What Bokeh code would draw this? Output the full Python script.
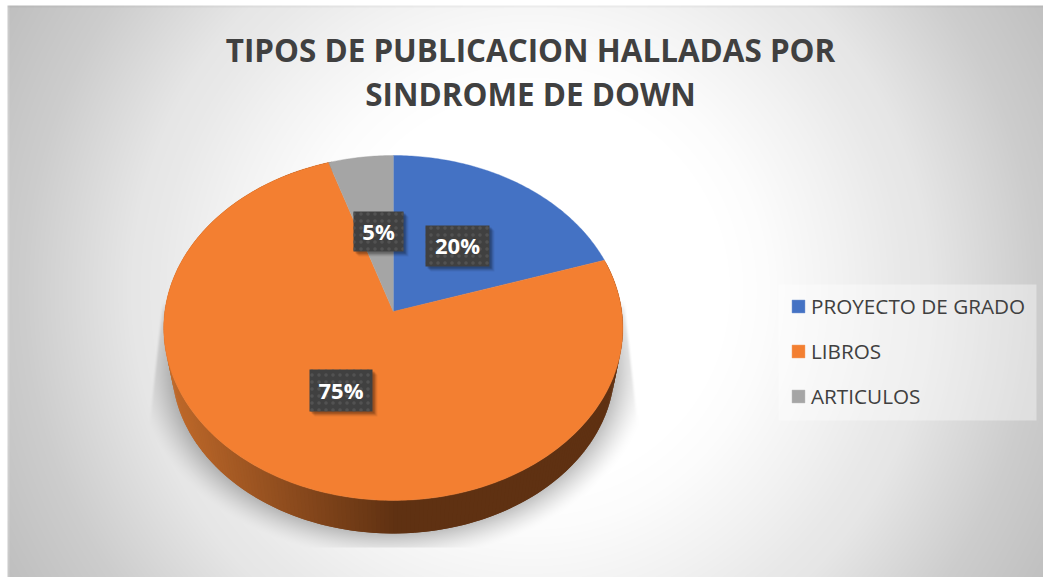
import numpy as np
from bokeh.plotting import figure
from bokeh.models import Legend, LegendItem
from bokeh.core.properties import value
from bokeh.embed import file_html
from bokeh.resources import INLINE

categories = ["PROYECTO DE GRADO", "LIBROS", "ARTICULOS"]
shares = [20, 75, 5]
labels = ["20%", "75%", "5%"]
colors = ["#4472C4", "#F37F31", "#A5A5A5"]
title_lines = ["TIPOS DE PUBLICACION HALLADAS POR", "SINDROME DE DOWN"]

W, H = 1043, 577
X0, Y0 = 392.8, 311.0
A, B, K = 228.5, 170.9, 0.0956
S, YL = 0.965, 350.6

def top(a):
    u, v = np.sin(a), np.cos(a)
    d = 1 + K * v
    return X0 + A * u / d, Y0 - B * v / d

def low(a):
    u, v = np.sin(a), np.cos(a)
    d = 1 + K * v
    return X0 + S * A * u / d, YL - S * B * v / d

# background: radial grey fade plus the soft shadow under the pie
yy, xx = np.mgrid[0:H, 0:W] + 0.5
r = np.hypot(xx - 530, yy - 290)
shade = 255 - np.interp(r, [0, 200, 240, 313, 371, 400, 506, 591, 640],
                        [0, 0, 3, 13, 22, 25, 50, 63, 70])
ex = (xx - X0) / (S * 230)
ey = (yy - 366) / (S * 172.5)
dist = (np.hypot(ex, ey) - 1) * 165
sh = np.clip(1 - dist / 26, 0, 1) ** 1.4 * 0.24
left = 160 - (yy - 310) * 12 / 110
right = 626 + (yy - 310) * 12 / 110
mask = np.clip((xx - left) / 3, 0, 1) * np.clip((right - xx) / 3, 0, 1)
mask *= np.clip((547.5 - yy), 0, 1) * np.clip((yy - 300) / 10, 0, 1)
shade = shade * (1 - sh * mask)
# frame edges of the chart area
shade[5:7, :] = shade[5:7, :] * 0.96
shade[:, 7:9] = shade[:, 7:9] + 10
g = np.clip(shade, 0, 255).astype(np.uint32)
img = ((255 << 24) | (g << 16) | (g << 8) | g).astype(np.uint32)
# white strip outside the chart frame
img[:5, :] = 0xFFFFFFFF
img[:, :7] = 0xFFFFFFFF

p = figure(width=W, height=H, x_range=(0, W), y_range=(H, 0),
           toolbar_location=None, output_backend="svg", min_border=0,
           outline_line_color=None, border_fill_color=None,
           background_fill_color=None)
p.axis.visible = False
p.grid.visible = False
p.image_rgba(image=[img], x=0, y=0, dw=W, dh=H)

# slice angles from the values
edges = np.cumsum([0] + shares) / sum(shares) * 2 * np.pi

# rim of the large slice, shaded left to right
step = np.radians(1.0)
a = np.arange(edges[1], edges[2], step)
xs, ys, cs = [], [], []
lo = np.array([0xC4, 0x6C, 0x2C])
hi = np.array([0x5F, 0x31, 0x12])
for a0 in a:
    a1 = a0 + 2 * step
    x0, y0 = top(a0); x1, y1 = top(a1)
    x2, y2 = low(a1); x3, y3 = low(a0)
    xs.append([x0, x1, x2, x3]); ys.append([y0, y1, y2, y3])
    t = np.clip((0.5 * (x2 + x3) - 165) / (395 - 165), 0, 1)
    c = (lo + (hi - lo) * t).astype(int)
    cs.append("#%02x%02x%02x" % tuple(c))
p.patches(xs, ys, fill_color=cs, line_color=None)

rs = []
for i, col in enumerate(colors):
    ang = np.linspace(edges[i], edges[i + 1], max(8, int(shares[i] * 5)))
    x, y = top(ang)
    rs.append(p.patch(np.r_[X0, x], np.r_[Y0, y], fill_color=col, line_color=col, line_width=0.4))

# value labels
bx0 = [425, 309, 353]
bx1 = [489, 372, 403]
by0 = [225, 369, 211]
by1 = [266, 411, 251]
bxc = [(a_ + b_) / 2 for a_, b_ in zip(bx0, bx1)]
byc = [(a_ + b_) / 2 - 1 for a_, b_ in zip(by0, by1)]
for off, alpha in [(5, 0.06), (4, 0.08), (3, 0.12), (2, 0.16)]:
    p.quad(left=[v + off for v in bx0], right=[v + off for v in bx1],
           top=[v + off for v in by0], bottom=[v + off for v in by1],
           fill_color="#000000", fill_alpha=alpha, line_color=None)
p.quad(left=bx0, right=bx1, top=by0, bottom=by1, fill_color="#404040", line_color=None,
       hatch_pattern="dot", hatch_color="#525252", hatch_scale=7, hatch_weight=1.2)
p.text(bxc, byc, text=labels, text_color="#FFFFFF", text_font=value("Open Sans"),
       text_font_style="bold", text_font_size="22px", text_align="center", text_baseline="middle")

# title
p.text([530, 530], [49, 92.5], text=title_lines, text_color="#404040",
       text_font=value("Open Sans"), text_font_style="bold", text_font_size="31.4px",
       text_align="center", text_baseline="middle")

# legend panel and legend
p.quad(left=[778], right=[1036], top=[284], bottom=[420],
       fill_color="#FFFFFF", fill_alpha=0.38, line_color=None)
legend = Legend(items=[LegendItem(label=c, renderers=[r_]) for c, r_ in zip(categories, rs)],
                location=(790, 166.75), orientation="vertical",
                border_line_color=None, background_fill_alpha=0,
                label_text_font="Open Sans", label_text_font_size="20.7px", label_text_color="#404040",
                glyph_width=16, glyph_height=16, spacing=17, padding=12, margin=0,
                label_standoff=5, label_height=18)
p.add_layout(legend, "center")

open("out.html", "w").write(file_html(p, INLINE))
